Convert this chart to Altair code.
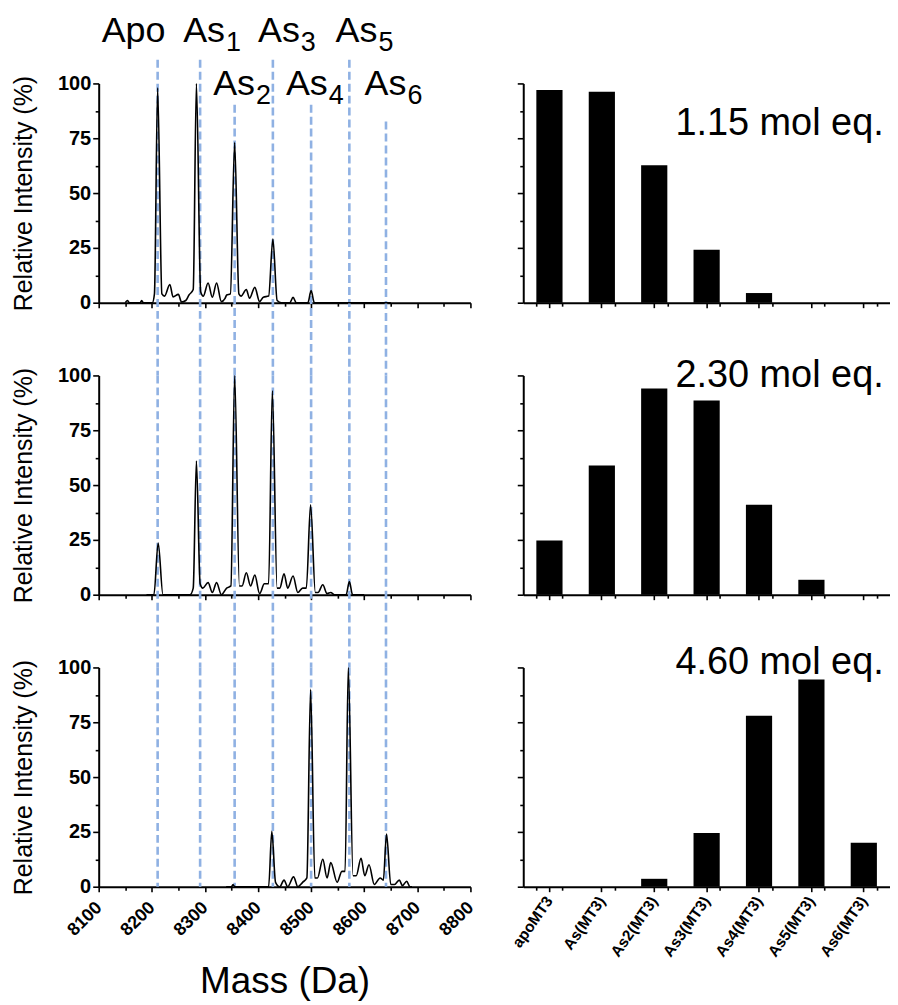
import altair as alt
import pandas as pd

FONT = "Liberation Sans"
BLUE = "#8fb1e3"

# ---------------- data ----------------
# dashed marker lines (mass, Da) for Apo, As1 ... As6
marker_mass = [8211, 8291, 8356, 8428, 8500, 8572, 8641]
# where each dashed line starts in the top panel (intensity units)
marker_top_first = [110.8, 110.8, 90.3, 110.8, 90.3, 110.8, 82.6]

# species labels above the top spectrum
label_main = ["Apo", "As", "As", "As", "As", "As", "As"]
label_sub = ["", "1", "2", "3", "4", "5", "6"]
label_mass = [8105.6, 8259, 8315.6, 8400, 8452.5, 8546, 8600.6]
label_level = [119, 119, 94.9, 119, 94.9, 119, 94.9]

# spectrum 1 (1.15 mol eq.)
s1_mass = [8150, 8154, 8158, 8178, 8181, 8184, 8201, 8205, 8211, 8219, 8224, 8234, 8240, 8250,
           8256, 8264, 8270, 8278, 8284, 8292, 8297, 8306, 8314, 8322, 8331, 8338, 8341, 8348,
           8356, 8364, 8368, 8378, 8384, 8394, 8403, 8410, 8420, 8428, 8436, 8444, 8460, 8466,
           8472, 8494, 8500, 8506, 8650]
s1_int = [0, 1, 0, 0, 1, 0, 0, 4, 98, 4, 3, 8.3, 2.6, 3.8,
          0.3, 1, 3.5, 6, 100, 5, 3, 9, 2.5, 9, 0.5, 2, 3.5, 4,
          73, 4, 3, 6, 2, 7, 0.5, 2.5, 3, 29, 1, 0, 0, 2.5,
          0, 0, 5.5, 0, 0]

# spectrum 2 (2.30 mol eq.)
s2_mass = [8190, 8204, 8212, 8221, 8272, 8278, 8284, 8291, 8296, 8306, 8314, 8322, 8331, 8341,
           8349, 8356, 8365, 8370, 8378, 8386, 8394, 8403, 8412, 8420, 8427, 8436, 8441, 8449,
           8456, 8466, 8475, 8484, 8491, 8499, 8508, 8513, 8522, 8530, 8537, 8544, 8566, 8572,
           8578, 8600]
s2_int = [0, 0, 23.6, 0, 0, 3, 61, 5, 3, 5.5, 1, 5.5, 0, 3,
          4, 100, 4, 4, 10, 4, 9, 0.5, 5, 5, 93, 3, 3, 9.5,
          3, 8.5, 1, 3, 3, 41, 1, 1, 4.5, 0.5, 1, 0, 0, 6,
          0, 0]

# spectrum 3 (4.60 mol eq.)
s3_mass = [8340, 8350, 8353, 8356, 8420, 8426, 8433, 8441, 8449, 8456, 8467, 8475, 8484, 8492,
           8499, 8507, 8512, 8522, 8530, 8537, 8549, 8558, 8564, 8570, 8579, 8585, 8594, 8601,
           8609, 8619, 8630, 8636, 8642, 8650, 8657, 8666, 8672, 8680, 8686, 8690]
s3_int = [0, 0, 1, 0, 0, 25.3, 2, 0, 3, 0, 4.5, 0, 2, 4,
          90, 4, 4, 12.5, 4, 11, 2, 7, 7, 100, 5, 5, 13, 5,
          10, 1, 4, 3, 24, 1, 1, 3, 0.5, 2.5, 0, 0]

# bar charts
categories = ["apoMT3", "As(MT3)", "As2(MT3)", "As3(MT3)", "As4(MT3)", "As5(MT3)", "As6(MT3)"]
bars_1 = [97, 96.2, 62.7, 24.1, 4.4, 0, 0]
bars_2 = [24.7, 58.9, 94, 88.6, 41, 6.8, 0]
bars_3 = [0, 0, 3.6, 24.5, 78, 94.5, 20]
conc_text = ["1.15 mol eq.", "2.30 mol eq.", "4.60 mol eq."]
conc_level = [76.5, 94.5, 97]

mass_ticks = [8100, 8200, 8300, 8400, 8500, 8600, 8700, 8800]
mass_minor = [8150, 8250, 8350, 8450, 8550, 8650, 8750]
int_ticks = [0, 25, 50, 75, 100]
int_minor = [12.5, 37.5, 62.5, 87.5]

W_L, W_R, H = 373, 368, 220
GAP_BELOW = -33.2  # extension of dashed lines into the gap below a panel


def spectrum_panel(idx, mass, inten, rule_top, rule_bottom, bottom):
    xs = alt.Scale(domain=[8100, 8800], nice=False, zero=False)
    ys = alt.Scale(domain=[0, 100], nice=False, zero=False)
    spec_df = pd.DataFrame({"mass": mass, "intensity": inten})
    rule_df = pd.DataFrame({"mass": marker_mass, "top": rule_top, "bottom": rule_bottom})

    if bottom:
        xmaj = alt.Axis(values=mass_ticks, orient="bottom", labels=True, labelAngle=-45,
                        labelFontSize=18, labelAlign="right", labelBaseline="middle",
                        labelPadding=13, format="d", title="Mass (Da)", titleFontSize=37,
                        titlePadding=24, tickSize=5)
    else:
        xmaj = alt.Axis(values=mass_ticks, orient="bottom", labels=False, title="", tickSize=5)
    xmin = alt.Axis(values=mass_minor, orient="bottom", labels=False, title="", domain=False,
                    tickSize=3.5)
    ymaj = alt.Axis(values=int_ticks, orient="left", labelFontSize=20, labelPadding=2,
                    format="d", title="Relative Intensity (%)", titleFontSize=25,
                    titlePadding=21, tickSize=6)
    ymin = alt.Axis(values=int_minor, orient="left", labels=False, title="", domain=False,
                    tickSize=3.5)

    rules = alt.Chart(rule_df).mark_rule(color=BLUE, strokeWidth=2.6, strokeDash=[8, 4],
                                         clip=False).encode(
        x=alt.X("mass:Q", scale=xs, axis=xmaj),
        y=alt.Y("top:Q", scale=ys, axis=ymaj),
        y2="bottom:Q",
    )
    line = alt.Chart(spec_df).mark_line(color="black", strokeWidth=1.6,
                                        interpolate="monotone").encode(
        x=alt.X("mass:Q", scale=xs, axis=xmin),
        y=alt.Y("intensity:Q", scale=ys, axis=ymin),
    )
    layers = [rules, line]
    if idx == 0:
        lab_df = pd.DataFrame({"mass": label_mass, "level": label_level,
                               "main": label_main, "sub": label_sub})
        main = alt.Chart(lab_df).mark_text(align="left", baseline="alphabetic", fontSize=36,
                                           font=FONT, color="black", clip=False).encode(
            x=alt.X("mass:Q", scale=xs, axis=None),
            y=alt.Y("level:Q", scale=ys, axis=None),
            text="main:N",
        )
        sub = alt.Chart(lab_df).mark_text(align="left", baseline="alphabetic", fontSize=27,
                                          font=FONT, color="black", dx=43, dy=9.3,
                                          clip=False).encode(
            x=alt.X("mass:Q", scale=xs, axis=None),
            y=alt.Y("level:Q", scale=ys, axis=None),
            text="sub:N",
        )
        layers += [main, sub]
    return alt.layer(*layers).resolve_axis(x="independent", y="independent").properties(
        width=W_L, height=H)


def bar_panel(idx, values, bottom):
    df = pd.DataFrame({"cat": categories, "val": values})
    xs = alt.Scale(domain=categories, paddingInner=0.5, paddingOuter=0.25)
    ys = alt.Scale(domain=[0, 100], nice=False, zero=False)
    if bottom:
        xmaj = alt.Axis(orient="bottom", labels=True, labelAngle=-55, labelFontSize=15.5,
                        labelAlign="right", labelBaseline="middle", labelPadding=6,
                        title="", tickSize=5)
    else:
        xmaj = alt.Axis(orient="bottom", labels=False, title="", tickSize=5)
    xmin = alt.Axis(orient="bottom", labels=False, title="", domain=False, tickSize=3.5,
                    tickBand="extent")
    ymaj = alt.Axis(values=int_ticks, orient="left", labels=False, title="", tickSize=6)
    ymin = alt.Axis(values=int_minor, orient="left", labels=False, title="", domain=False,
                    tickSize=3.5)
    bars = alt.Chart(df).mark_bar(color="black").encode(
        x=alt.X("cat:N", scale=xs, sort=categories, axis=xmaj),
        y=alt.Y("val:Q", scale=ys, axis=ymaj),
    )
    tdf = pd.DataFrame({"cat": [categories[-1]], "val": [conc_level[idx]],
                        "t": [conc_text[idx]]})
    txt = alt.Chart(tdf).mark_text(align="right", baseline="alphabetic", dx=20, fontSize=38,
                                   font=FONT, color="black", clip=False).encode(
        x=alt.X("cat:N", scale=xs, sort=categories, axis=xmin),
        y=alt.Y("val:Q", scale=ys, axis=ymin),
        text="t:N",
    )
    return alt.layer(bars, txt).resolve_axis(x="independent", y="independent").properties(
        width=W_R, height=H)


spectra = [(s1_mass, s1_int), (s2_mass, s2_int), (s3_mass, s3_int)]
bars_all = [bars_1, bars_2, bars_3]
panels = []
for i in range(3):
    top = marker_top_first if i == 0 else [100] * len(marker_mass)
    bot = [0] * len(marker_mass) if i == 2 else [GAP_BELOW] * len(marker_mass)
    panels.append(spectrum_panel(i, spectra[i][0], spectra[i][1], top, bot, i == 2))
    panels.append(bar_panel(i, bars_all[i], i == 2))

chart = alt.concat(*panels, columns=2, spacing={"row": 73, "column": 53},
                   bounds="flush").properties(
    padding={"left": 3, "top": 3, "right": 0, "bottom": 0}
).configure_view(strokeWidth=0).configure_axis(
    domainColor="black", domainWidth=2, tickColor="black", tickWidth=1.6,
    labelFont=FONT, labelFontWeight="bold", labelColor="black",
    titleFont=FONT, titleFontWeight="normal", titleColor="black", grid=False,
)

chart.save("out.html", embed_options={"renderer": "svg", "actions": False})
